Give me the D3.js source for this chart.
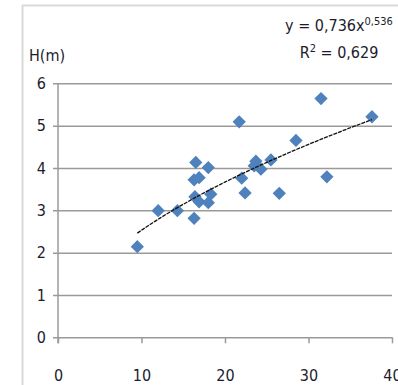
<!DOCTYPE html>
<html>
<head>
<meta charset="utf-8">
<script src="https://cdn.jsdelivr.net/npm/d3@7"></script>
<style>
  body { margin: 0; background: #fff; }
  text { font-family: "Liberation Sans Narrow", "DejaVu Sans Condensed", sans-serif; fill: #1c1c2c; }
</style>
</head>
<body>
<script>
// diameter (cm) and height (m)
var dVals = [9.5, 12.0, 14.3, 16.5, 18.0, 16.3, 16.9, 16.4, 16.9, 16.3, 18.0, 18.3,
             21.7, 31.5, 37.6, 28.5, 23.7, 25.5, 24.3, 23.5, 22.0, 32.2, 22.4, 26.5]
var hVals = [2.14, 2.99, 2.99, 4.13, 4.01, 3.72, 3.77, 3.32, 3.20, 2.81, 3.18, 3.38,
             5.09, 5.64, 5.21, 4.65, 4.16, 4.19, 3.97, 4.05, 3.76, 3.79, 3.41, 3.40]
var xTicks = [0, 10, 20, 30, 40]
var yTicks = [0, 1, 2, 3, 4, 5, 6]
var fitA = 0.736, fitB = 0.536

var width = 398, height = 385
var margin = {left: 58, right: 392, top: 83.3, bottom: 337.3}

var svg = d3.select("body").append("svg")
    .attr("width", width)
    .attr("height", height)

// chart area frame (only top and left edges are in view)
svg.append("line").attr("x1", 22.5).attr("x2", 22.5).attr("y1", 5).attr("y2", height)
    .attr("stroke", "#d9d9d9").attr("stroke-width", 2)
svg.append("line").attr("x1", 22).attr("x2", width).attr("y1", 5.5).attr("y2", 5.5)
    .attr("stroke", "#d9d9d9").attr("stroke-width", 2)

var x = d3.scaleLinear().domain([0, 40]).range([margin.left, margin.right])
var y = d3.scaleLinear().domain([0, 6]).range([margin.bottom, margin.top])

// horizontal gridlines with ticks on the left
svg.append("g")
    .attr("transform", "translate(" + margin.left + ",0)")
    .call(d3.axisLeft(y).tickValues(yTicks).tickFormat(d3.format("d"))
        .tickSize(-(margin.right - margin.left)).tickPadding(12))
    .call(function(g) {
        g.select(".domain").remove()
        g.selectAll(".tick line").attr("x1", -5).attr("stroke", "#9a9a9a").attr("stroke-width", 1.5)
        g.selectAll(".tick text").style("font-size", "16px")
    })

// y axis line
svg.append("line").attr("x1", margin.left).attr("x2", margin.left)
    .attr("y1", margin.top).attr("y2", margin.bottom + 6)
    .attr("stroke", "#9a9a9a").attr("stroke-width", 1.5)

// x axis
svg.append("g")
    .attr("transform", "translate(0," + margin.bottom + ")")
    .call(d3.axisBottom(x).tickValues(xTicks).tickSize(6).tickPadding(26))
    .call(function(g) {
        g.select(".domain").remove()
        g.selectAll(".tick line").attr("stroke", "#9a9a9a").attr("stroke-width", 1.5)
        g.selectAll(".tick text").style("font-size", "16px")
    })

// points
var diamond = d3.symbol().type(d3.symbolSquare).size(88)
svg.append("g").selectAll("path")
    .data(dVals)
    .enter().append("path")
    .attr("d", diamond)
    .attr("transform", function(d, i) {
        return "translate(" + x(d) + "," + y(hVals[i]) + ") rotate(45)"
    })
    .attr("fill", "#4f81bd")

// power trend line
var xMin = d3.min(dVals), xMax = d3.max(dVals)
var trend = d3.range(0, 41).map(function(k) {
    var d = xMin + (xMax - xMin) * k / 40
    return [d, fitA * Math.pow(d, fitB)]
})
svg.append("path")
    .datum(trend)
    .attr("fill", "none")
    .attr("stroke", "#111")
    .attr("stroke-width", 1.3)
    .attr("stroke-dasharray", "4,1")
    .attr("d", d3.line().x(function(d) { return x(d[0]) }).y(function(d) { return y(d[1]) }))

// labels
svg.append("text").attr("x", 29).attr("y", 61).style("font-size", "16px").text("H(m)")

var eq = svg.append("text").attr("x", 339).attr("y", 31).attr("text-anchor", "middle")
    .style("font-size", "16px")
eq.append("tspan").text("y = 0,736x")
eq.append("tspan").attr("dy", -6).style("font-size", "11px").text("0,536")

var r2 = svg.append("text").attr("x", 339).attr("y", 58).attr("text-anchor", "middle")
    .style("font-size", "16px")
r2.append("tspan").text("R")
r2.append("tspan").attr("dy", -6).style("font-size", "11px").text("2")
r2.append("tspan").attr("dy", 6).text(" = 0,629")

// x axis title, cut off at the bottom edge
svg.append("text").attr("x", 225).attr("y", 399).attr("text-anchor", "middle")
    .style("font-size", "16px").style("font-weight", "bold").text("Đường kính D1.3 (cm)")
</script>
</body>
</html>
